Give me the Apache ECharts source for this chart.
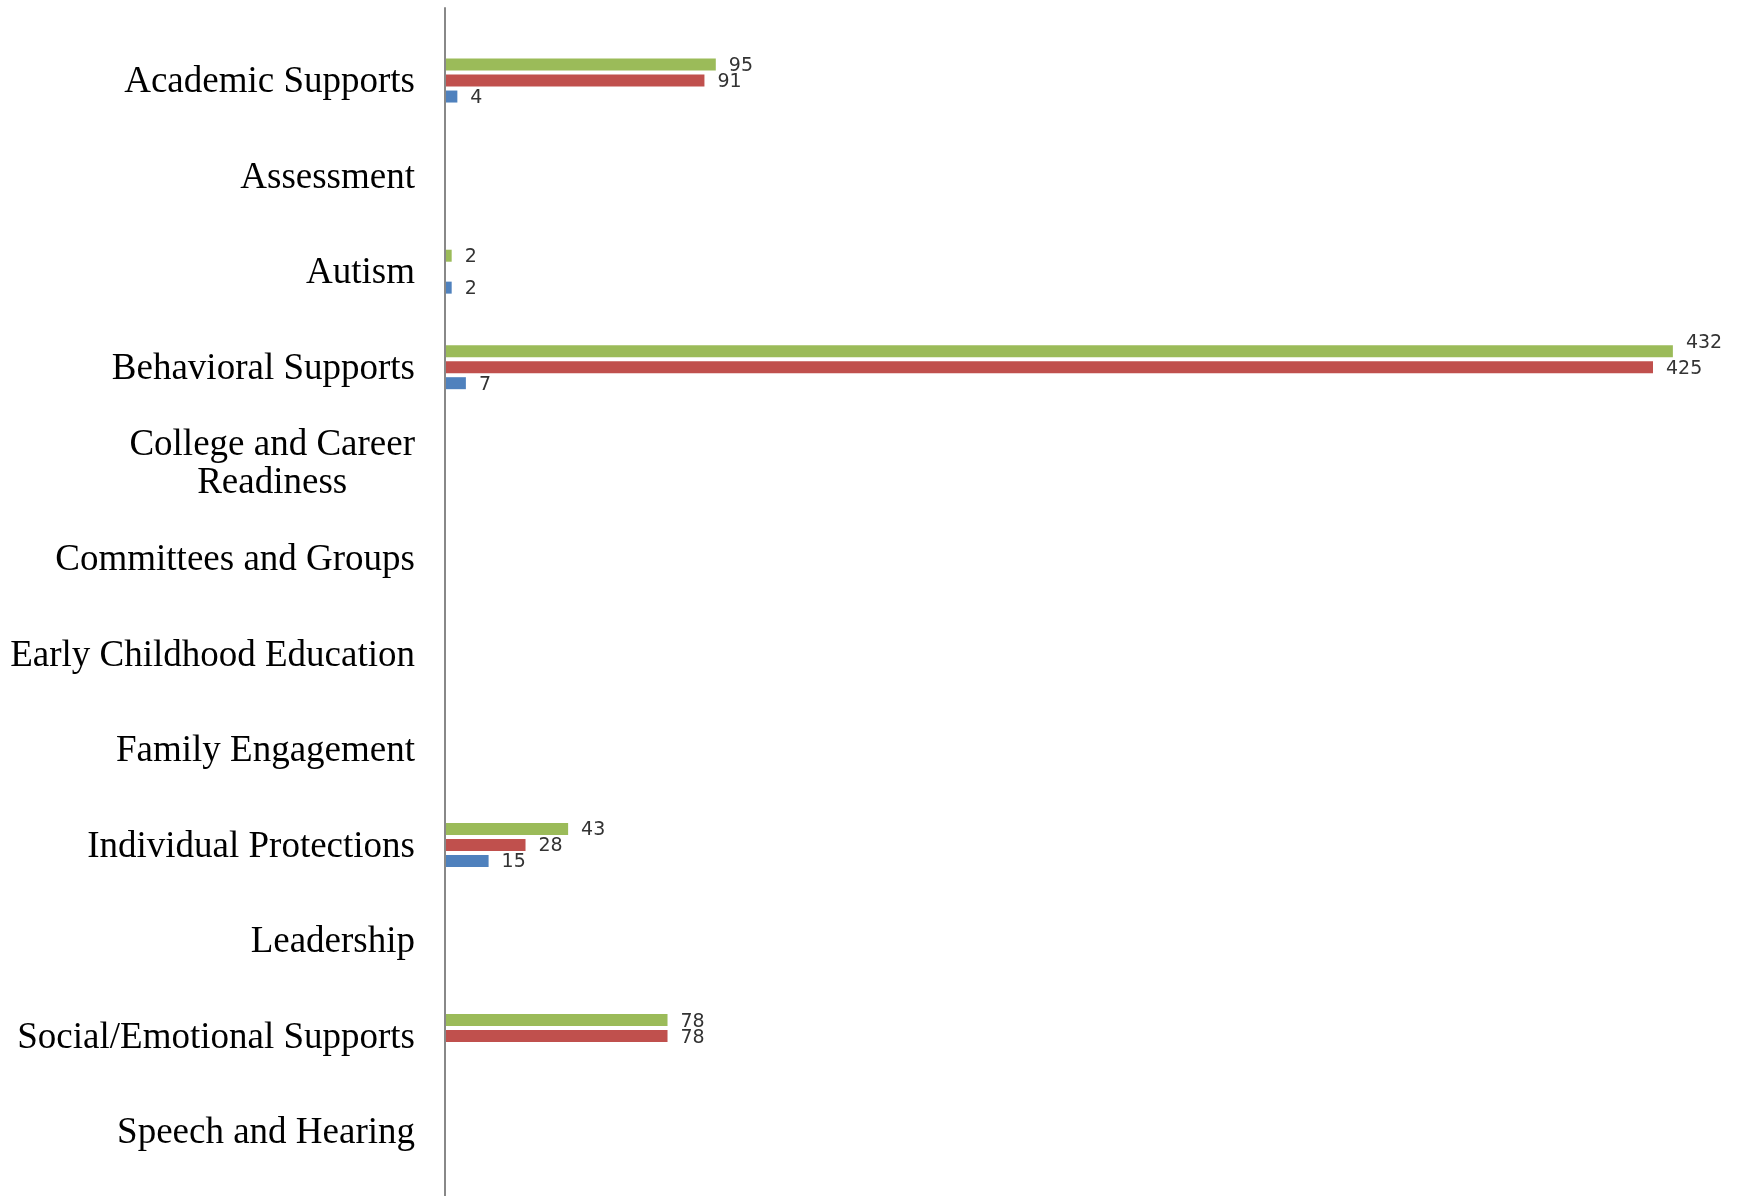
<!DOCTYPE html>
<html>
<head>
<meta charset="utf-8">
<script src="https://cdn.jsdelivr.net/npm/echarts@6/dist/echarts.min.js"></script>
<style>
html,body{margin:0;padding:0;background:#fff;}
#chart{width:1737px;height:1196px;}
</style>
</head>
<body>
<div id="chart"></div>
<script>
const categories = [
  "Academic Supports",
  "Assessment",
  "Autism",
  "Behavioral Supports",
  "College and Career\nReadiness",
  "Committees and Groups",
  "Early Childhood Education",
  "Family Engagement",
  "Individual Protections",
  "Leadership",
  "Social/Emotional Supports",
  "Speech and Hearing"
];
const totalValues  = [95, 0, 2, 432, 0, 0, 0, 0, 43, 0, 78, 0];
const redValues    = [91, 0, 0, 425, 0, 0, 0, 0, 28, 0, 78, 0];
const blueValues   = [4, 0, 2, 7, 0, 0, 0, 0, 15, 0, 0, 0];
const seriesNames  = ["Total", "Series 2", "Series 3"];
const seriesColors = ["#9BBB59", "#C0504D", "#4F81BD"];

const maxTotal = Math.max.apply(null, totalValues);

function makeSeries(name, values, color, liftMax) {
  return {
    name: name,
    type: 'bar',
    xAxisIndex: 0,
    yAxisIndex: 0,
    barWidth: 12,
    barGap: '33%',
    itemStyle: { color: color },
    label: {
      show: true,
      position: 'right',
      distance: 13,
      offset: [0, 1.5],
      fontFamily: 'DejaVu Sans',
      fontSize: 19,
      color: '#333',
      formatter: function (p) { return p.value === 0 ? '' : String(p.value); }
    },
    data: values.map(function (v) {
      if (liftMax && v === maxTotal) {
        return { value: v, label: { offset: [0, -8] } };
      }
      return v;
    })
  };
}

const chart = echarts.init(document.getElementById('chart'), null, { renderer: 'canvas' });
chart.setOption({
  animation: false,
  backgroundColor: '#ffffff',
  grid: [
    { left: 446, right: 13, top: 32.8, bottom: 16.6 },
    { left: 445, right: 13, top: 8, bottom: 0 }
  ],
  xAxis: [
    { type: 'value', gridIndex: 0, min: 0, max: 450, show: false },
    { type: 'value', gridIndex: 1, min: 0, max: 1, show: false }
  ],
  yAxis: [
    {
      type: 'category',
      gridIndex: 0,
      inverse: true,
      data: categories,
      axisLine: { show: false },
      axisTick: { show: false },
      splitLine: { show: false },
      axisLabel: {
        margin: 31,
        fontFamily: 'Liberation Serif',
        fontSize: 37,
        color: '#000',
        lineHeight: 38,
        padding: [4, 0, 0, 0],
        formatter: function (v) {
          return v.split('\n').map(function (s) { return '{c|' + s + '}'; }).join('\n');
        },
        rich: {
          c: { align: 'center', fontFamily: 'Liberation Serif', fontSize: 37, color: '#000', lineHeight: 38 }
        }
      }
    },
    {
      type: 'value',
      gridIndex: 1,
      min: 0,
      max: 1,
      axisLine: { show: true, lineStyle: { color: '#888888', width: 2 } },
      axisTick: { show: false },
      axisLabel: { show: false },
      splitLine: { show: false }
    }
  ],
  series: [
    makeSeries(seriesNames[0], totalValues, seriesColors[0], true),
    makeSeries(seriesNames[1], redValues, seriesColors[1], false),
    makeSeries(seriesNames[2], blueValues, seriesColors[2], false)
  ]
});
</script>
</body>
</html>
